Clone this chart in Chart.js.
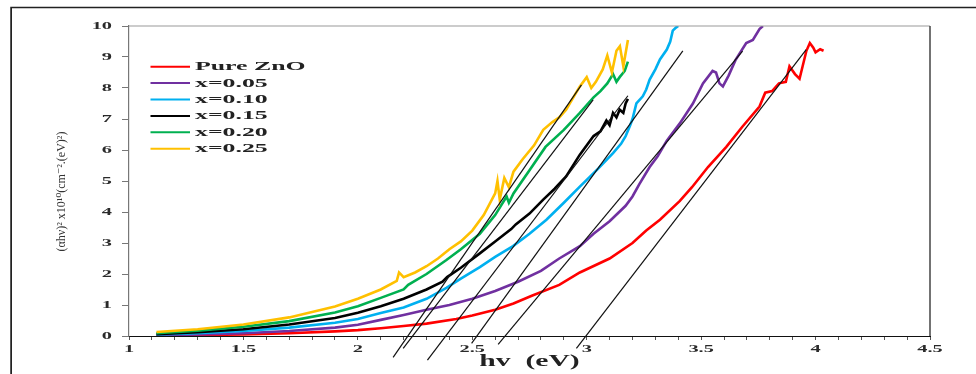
<!DOCTYPE html>
<html><head><meta charset="utf-8">
<style>html,body{margin:0;padding:0;background:#fff}#wrap{position:relative;width:976px;height:374px}</style>
<script src="https://cdn.jsdelivr.net/npm/chart.js@4/dist/chart.umd.min.js"></script>
</head><body><div id="wrap"><canvas id="c" width="976" height="374"></canvas></div>
<script>
// ---- data ----
const seriesLabels = ['Pure ZnO', 'x=0.05', 'x=0.10', 'x=0.15', 'x=0.20', 'x=0.25'];
const seriesColors = ['#FF0000', '#7030A0', '#00B0F0', '#000000', '#00B050', '#FFC000'];

const redX = [1.12,1.3,1.5,1.7,1.9,2.0,2.1,2.2,2.3,2.43,2.5,2.6,2.68,2.76,2.88,2.97,3.1,3.2,3.26,3.32,3.406,3.46,3.53,3.61,3.68,3.755,3.78,3.81,3.84,3.87,3.886,3.91,3.93,3.96,3.975,3.99,4.0,4.02,4.035];
const redY = [0.01,0.03,0.05,0.09,0.15,0.19,0.25,0.32,0.4,0.55,0.66,0.85,1.05,1.3,1.65,2.05,2.5,3.0,3.4,3.75,4.35,4.8,5.45,6.1,6.75,7.4,7.85,7.9,8.15,8.2,8.7,8.45,8.3,9.2,9.45,9.3,9.15,9.25,9.2];

const purpleX = [1.12,1.3,1.5,1.7,1.9,2.0,2.1,2.2,2.3,2.4,2.5,2.6,2.7,2.8,2.88,2.97,3.03,3.1,3.17,3.2,3.23,3.275,3.31,3.35,3.406,3.464,3.508,3.55,3.565,3.58,3.595,3.62,3.65,3.697,3.726,3.755,3.77];
const purpleY = [0.02,0.05,0.09,0.16,0.27,0.36,0.52,0.68,0.85,1.0,1.2,1.45,1.75,2.1,2.5,2.9,3.3,3.7,4.2,4.5,4.9,5.45,5.8,6.3,6.85,7.5,8.15,8.55,8.5,8.15,8.05,8.4,8.9,9.45,9.55,9.9,10.0];

const blueX = [1.12,1.3,1.5,1.7,1.9,2.0,2.1,2.2,2.3,2.387,2.45,2.533,2.6,2.678,2.75,2.824,2.9,2.97,3.05,3.115,3.15,3.17,3.19,3.2,3.217,3.245,3.26,3.275,3.3,3.32,3.35,3.365,3.376,3.39,3.4];
const blueY = [0.05,0.09,0.16,0.27,0.43,0.55,0.74,0.92,1.2,1.55,1.85,2.22,2.55,2.9,3.3,3.75,4.3,4.82,5.4,5.9,6.2,6.45,6.8,7.0,7.5,7.73,7.95,8.27,8.6,8.92,9.24,9.5,9.85,9.95,10.0];

const blackX = [1.12,1.3,1.5,1.7,1.9,2.0,2.1,2.2,2.3,2.37,2.39,2.45,2.53,2.6,2.67,2.69,2.75,2.81,2.86,2.91,2.97,3.03,3.06,3.086,3.1,3.115,3.13,3.144,3.16,3.17,3.18];
const blackY = [0.06,0.12,0.22,0.37,0.58,0.75,0.96,1.2,1.5,1.75,1.9,2.2,2.65,3.05,3.45,3.6,3.95,4.4,4.75,5.15,5.85,6.45,6.6,6.95,6.8,7.2,7.05,7.3,7.2,7.5,7.65];

const greenX = [1.12,1.3,1.5,1.7,1.9,2.0,2.1,2.2,2.22,2.3,2.387,2.45,2.533,2.6,2.65,2.66,2.68,2.75,2.82,2.9,2.97,3.03,3.06,3.09,3.115,3.13,3.144,3.166,3.18];
const greenY = [0.09,0.17,0.3,0.48,0.76,0.96,1.23,1.5,1.65,2.0,2.45,2.8,3.3,3.9,4.5,4.3,4.6,5.35,6.1,6.65,7.2,7.7,7.9,8.15,8.45,8.2,8.35,8.55,8.85];

const yellowX = [1.12,1.3,1.5,1.7,1.9,2.0,2.1,2.17,2.18,2.2,2.25,2.3,2.35,2.4,2.45,2.5,2.55,2.6,2.61,2.62,2.64,2.66,2.68,2.72,2.77,2.81,2.85,2.88,2.91,2.95,2.97,3.0,3.02,3.04,3.07,3.09,3.11,3.13,3.145,3.16,3.18];
const yellowY = [0.13,0.22,0.37,0.6,0.95,1.2,1.5,1.78,2.05,1.9,2.05,2.25,2.5,2.8,3.05,3.4,3.9,4.6,5.0,4.4,5.1,4.8,5.3,5.7,6.15,6.65,6.9,7.05,7.3,7.8,8.05,8.35,8.0,8.2,8.6,9.05,8.5,9.2,9.35,8.7,9.55];

// linear-fit (tangent) lines: [start, end] for each series, same order as labels
const tangentX = [[2.955,3.959],[2.613,3.681],[2.497,3.420],[2.304,3.180],[2.198,3.028],[2.154,2.977]];
const tangentY = [[-0.40,9.24],[-0.27,9.19],[-0.24,9.20],[-0.78,7.75],[-0.40,7.62],[-0.69,8.10]];

const xTitle = 'hv  (eV)';
const yTitle = '(\u03B1h\u03BD)\u00B2 x10\u00B9\u2070(cm\u207B\u00B2.(eV)\u00B2)\u00A0\u00A0\u00A0\u00A0\u00A0\u00A0\u00A0';

// ---- build datasets ----
const seriesX = [redX, purpleX, blueX, blackX, greenX, yellowX];
const seriesY = [redY, purpleY, blueY, blackY, greenY, yellowY];
const datasets = [];
seriesLabels.forEach((lab, i) => {
  datasets.push({
    label: lab,
    data: seriesX[i].map((x, k) => ({x: x, y: seriesY[i][k]})),
    borderColor: seriesColors[i], backgroundColor: seriesColors[i],
    borderWidth: 2.6, pointRadius: 0, tension: 0, showLine: true,
    order: 6 - i
  });
});
tangentX.forEach((tx, i) => {
  datasets.push({
    label: 'fit ' + seriesLabels[i],
    data: tx.map((x, k) => ({x: x, y: tangentY[i][k]})),
    borderColor: '#111', borderWidth: 1.2, pointRadius: 0, tension: 0, showLine: true,
    clip: false, order: 0
  });
});

const serif = '"Liberation Serif", "DejaVu Serif", serif';

// the reference's text is horizontally stretched; emulate that for unrotated text
const canvas = document.getElementById('c');
const ctx0 = canvas.getContext('2d');
let textStretch = 1.85;
const origFill = ctx0.fillText.bind(ctx0);
ctx0.fillText = function (t, x, y, mw) {
  const m = this.getTransform();
  if (Math.abs(m.b) < 1e-6 && Math.abs(m.c) < 1e-6) {
    this.save(); this.translate(x, y); this.scale(textStretch, 1);
    if (mw) origFill(t, 0, 0, mw / textStretch); else origFill(t, 0, 0);
    this.restore();
  } else {
    if (mw) origFill(t, x, y, mw); else origFill(t, x, y);
  }
};

const decor = {
  id: 'decor',
  beforeDraw(chart) {
    const ctx = chart.ctx;
    ctx.save();
    ctx.fillStyle = '#fff'; ctx.fillRect(0, 0, chart.width, chart.height);
    ctx.strokeStyle = '#222';
    ctx.lineWidth = 1.5;
    ctx.beginPath(); ctx.moveTo(11, 374); ctx.lineTo(11, 7.5); ctx.lineTo(976, 7.5); ctx.stroke();
    ctx.lineWidth = 1;
    ctx.beginPath(); ctx.moveTo(11.5, 7); ctx.lineTo(11.5, 374); ctx.stroke();
    ctx.restore();
  },
  afterDatasetsDraw(chart) {
    const ctx = chart.ctx, a = chart.chartArea;
    ctx.save();
    ctx.strokeStyle = '#9a9a9a'; ctx.lineWidth = 1.2;
    ctx.beginPath(); ctx.moveTo(a.left, a.top); ctx.lineTo(a.right, a.top); ctx.stroke();
    ctx.strokeStyle = '#444'; ctx.lineWidth = 1.5;
    ctx.beginPath(); ctx.moveTo(a.right, a.top); ctx.lineTo(a.right, a.bottom); ctx.stroke();
    // legend
    ctx.font = 'bold 12px ' + serif;
    ctx.textBaseline = 'middle'; ctx.textAlign = 'left';
    textStretch = 2.15;
    seriesLabels.forEach((lab, i) => {
      const y = 66.7 + i * 16.4;
      ctx.strokeStyle = seriesColors[i]; ctx.lineWidth = 2;
      ctx.beginPath(); ctx.moveTo(150.5, y); ctx.lineTo(190, y); ctx.stroke();
      ctx.fillStyle = '#222';
      ctx.fillText(lab, 195, y + 0.5);
    });
    textStretch = 1.85;
    ctx.restore();
  }
};

new Chart(canvas, {
  type: 'scatter',
  data: {datasets},
  options: {
    responsive: false, animation: false, devicePixelRatio: 1,
    layout: {padding: {top: 26, right: 46, left: 0, bottom: 0}},
    plugins: {legend: {display: false}, tooltip: {enabled: false}},
    scales: {
      x: {
        type: 'linear', min: 1, max: 4.5,
        afterFit: s => { s.height = 38; },
        ticks: {
          stepSize: 0.1, autoSkip: false, maxRotation: 0, padding: 3,
          color: '#2a2a2a', font: {family: serif, size: 11, weight: 'bold'},
          callback: v => { const t = Math.round(v * 10); return t % 5 === 0 ? String(t / 10) : ''; }
        },
        grid: {drawOnChartArea: false, drawTicks: true, tickLength: 4, tickColor: '#555'},
        border: {color: '#111', width: 1},
        title: {display: true, text: xTitle, color: '#222', font: {family: serif, size: 16, weight: 'bold'}, padding: {top: 0, bottom: 3}}
      },
      y: {
        type: 'linear', min: 0, max: 10,
        afterFit: s => { s.width = 129; },
        ticks: {stepSize: 1, padding: 10, color: '#2a2a2a', font: {family: serif, size: 11, weight: 'bold'}},
        grid: {drawOnChartArea: false, drawTicks: true, tickLength: 7, tickColor: '#777'},
        border: {color: '#777', width: 1.2},
        title: {display: true, text: yTitle, color: '#333', font: {family: serif, size: 12}, padding: {top: 55, bottom: 0}}
      }
    }
  },
  plugins: [decor]
});
</script>
</body></html>
